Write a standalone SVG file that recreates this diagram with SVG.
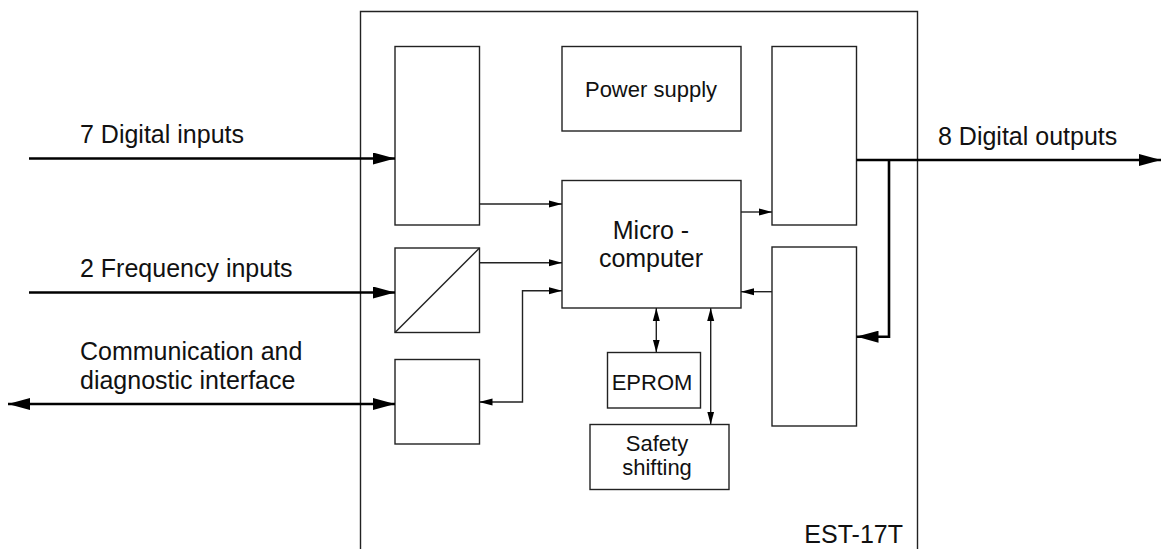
<svg xmlns="http://www.w3.org/2000/svg" width="1161" height="549" viewBox="0 0 1161 549">
<style>
.box{fill:#fff;stroke:#222;stroke-width:1.4}
.thin{fill:none;stroke:#222;stroke-width:1.4}
.thick{fill:none;stroke:#000;stroke-width:2.6}
text{font-family:"Liberation Sans",Arial,Helvetica,sans-serif;fill:#111}
.out{font-size:25px}
.in{font-size:22px;text-anchor:middle}
.mc{font-size:25px;text-anchor:middle}
</style>
<defs>
<marker id="big" markerUnits="userSpaceOnUse" markerWidth="22" markerHeight="12" refX="22" refY="6" orient="auto-start-reverse"><path d="M0,0 L22,6 L0,12 z" fill="#000"/></marker>
<marker id="sm" markerUnits="userSpaceOnUse" markerWidth="13" markerHeight="8" refX="13" refY="4" orient="auto-start-reverse"><path d="M0,0.5 L13,4 L0,7.5 z" fill="#000"/></marker>
</defs>
<g id="frame">
<path class="thin" d="M360.5,549 V11.5 H917.5 V549"/>
<text class="out" x="903" y="543" text-anchor="end">EST-17T</text>
</g>
<g id="digital-input-block"><rect class="box" x="395" y="46.5" width="84.5" height="178.5"/></g>
<g id="frequency-block"><rect class="box" x="395" y="248" width="84.5" height="84.5"/><line class="thin" x1="395" y1="332.5" x2="479.5" y2="248"/></g>
<g id="comm-block"><rect class="box" x="395" y="359.5" width="84.5" height="84.5"/></g>
<g id="power-supply"><rect class="box" x="562" y="46.5" width="179" height="84.5"/><text class="in" x="651" y="97">Power supply</text></g>
<g id="microcomputer"><rect class="box" x="562" y="180.5" width="179" height="127.5"/><text class="mc" x="651" y="239">Micro -</text><text class="mc" x="651" y="267">computer</text></g>
<g id="eprom"><rect class="box" x="607.5" y="352.5" width="93" height="55.5"/><text class="in" x="652" y="389.5">EPROM</text></g>
<g id="safety"><rect class="box" x="590" y="424.5" width="139" height="65"/><text class="in" x="657" y="451">Safety</text><text class="in" x="657" y="475">shifting</text></g>
<g id="output-block"><rect class="box" x="772" y="46.5" width="84.5" height="178.5"/></g>
<g id="feedback-block"><rect class="box" x="772" y="247" width="84.5" height="179"/></g>
<g id="labels">
<text class="out" x="80" y="143">7 Digital inputs</text>
<text class="out" x="80" y="277">2 Frequency inputs</text>
<text class="out" x="80" y="360">Communication and</text>
<text class="out" x="80" y="388.5">diagnostic interface</text>
<text class="out" x="938" y="145">8 Digital outputs</text>
</g>
<g id="connectors">
<line class="thick" x1="29" y1="158.5" x2="395" y2="158.5" marker-end="url(#big)"/>
<line class="thick" x1="29" y1="292.5" x2="395" y2="292.5" marker-end="url(#big)"/>
<line class="thick" x1="8" y1="404" x2="395" y2="404" marker-start="url(#big)" marker-end="url(#big)"/>
<line class="thin" x1="479.5" y1="204" x2="562" y2="204" marker-end="url(#sm)"/>
<line class="thin" x1="479.5" y1="262.7" x2="562" y2="262.7" marker-end="url(#sm)"/>
<path class="thin" d="M479.5,402 H522.5 V290.7 H562" marker-start="url(#sm)" marker-end="url(#sm)"/>
<line class="thin" x1="741" y1="212" x2="772" y2="212" marker-end="url(#sm)"/>
<line class="thin" x1="772" y1="291.7" x2="741" y2="291.7" marker-end="url(#sm)"/>
<line class="thin" x1="656.3" y1="308" x2="656.3" y2="352.5" marker-start="url(#sm)" marker-end="url(#sm)"/>
<line class="thin" x1="710.7" y1="308" x2="710.7" y2="424.5" marker-start="url(#sm)" marker-end="url(#sm)"/>
<line class="thick" x1="856.5" y1="160" x2="1161" y2="160" marker-end="url(#big)"/>
<path class="thick" d="M889,160 V336.7 H856.5" marker-end="url(#big)"/>
</g>
</svg>
